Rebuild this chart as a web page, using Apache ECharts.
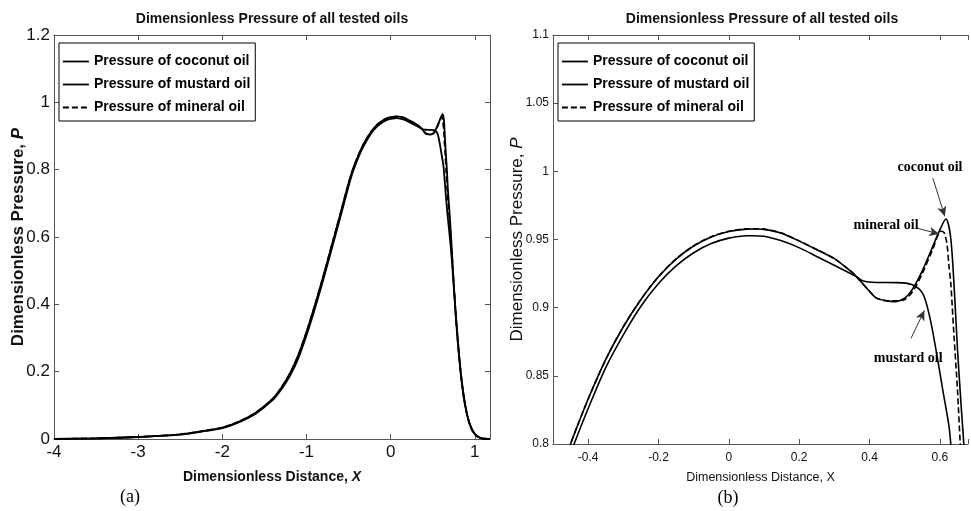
<!DOCTYPE html>
<html>
<head>
<meta charset="utf-8">
<script src="https://cdn.jsdelivr.net/npm/echarts@6/dist/echarts.min.js"></script>
<style>html,body{margin:0;padding:0;background:#fff;}#chart{width:971px;height:511px;}</style>
</head>
<body>
<div id="chart"></div>
<script>
// ---------- data ----------
const oilNames = ['Pressure of coconut oil', 'Pressure of mustard oil', 'Pressure of mineral oil'];

const coconutX = [-4.0, -3.5, -3.0, -2.5, -2.2, -2.0, -1.8, -1.6, -1.4, -1.3, -1.2, -1.1, -1.0, -0.9, -0.8, -0.7, -0.6, -0.5, -0.46, -0.44, -0.40, -0.35, -0.30, -0.25, -0.20, -0.15, -0.10, -0.05, 0.00, 0.05, 0.07, 0.10, 0.15, 0.20, 0.25, 0.30, 0.35, 0.363, 0.40, 0.42, 0.45, 0.47, 0.50, 0.523, 0.55, 0.58, 0.60, 0.617, 0.63, 0.64, 0.65, 0.66, 0.668, 0.68, 0.70, 0.72, 0.74, 0.76, 0.78, 0.80, 0.84, 0.88, 0.92, 0.96, 1.00, 1.05, 1.10, 1.18];
const coconutP = [0.000, 0.002, 0.006, 0.014, 0.025, 0.034, 0.052, 0.079, 0.120, 0.152, 0.193, 0.248, 0.318, 0.398, 0.484, 0.575, 0.667, 0.760, 0.793, 0.807, 0.833, 0.862, 0.886, 0.906, 0.9227, 0.9356, 0.9452, 0.9518, 0.9558, 0.9576, 0.9577, 0.9574, 0.9545, 0.9488, 0.9425, 0.936, 0.926, 0.9227, 0.912, 0.907, 0.905, 0.9044, 0.907, 0.914, 0.927, 0.945, 0.957, 0.965, 0.953, 0.918, 0.870, 0.830, 0.800, 0.740, 0.670, 0.590, 0.500, 0.420, 0.345, 0.280, 0.180, 0.110, 0.060, 0.032, 0.015, 0.005, 0.001, 0.000];

const mustardX = [-4.0, -3.5, -3.0, -2.5, -2.2, -2.0, -1.8, -1.6, -1.4, -1.3, -1.2, -1.1, -1.0, -0.9, -0.8, -0.7, -0.6, -0.5, -0.46, -0.44, -0.40, -0.35, -0.30, -0.25, -0.20, -0.15, -0.10, -0.05, 0.00, 0.05, 0.065, 0.10, 0.15, 0.204, 0.25, 0.298, 0.363, 0.382, 0.42, 0.476, 0.52, 0.551, 0.571, 0.589, 0.608, 0.626, 0.631, 0.65, 0.67, 0.69, 0.71, 0.73, 0.75, 0.77, 0.79, 0.83, 0.87, 0.91, 0.95, 1.00, 1.05, 1.10, 1.18];
const mustardP = [0.000, 0.002, 0.006, 0.013, 0.024, 0.032, 0.050, 0.076, 0.116, 0.147, 0.186, 0.238, 0.308, 0.388, 0.474, 0.565, 0.657, 0.751, 0.786, 0.800, 0.826, 0.856, 0.880, 0.901, 0.9177, 0.9306, 0.9403, 0.947, 0.951, 0.9527, 0.9528, 0.9524, 0.949, 0.9435, 0.9375, 0.9313, 0.9227, 0.9195, 0.9185, 0.9184, 0.917, 0.9105, 0.8934, 0.869, 0.840, 0.813, 0.800, 0.740, 0.680, 0.630, 0.580, 0.520, 0.450, 0.380, 0.320, 0.200, 0.120, 0.070, 0.037, 0.014, 0.005, 0.001, 0.000];

const mineralX = [-4.0, -3.5, -3.0, -2.5, -2.2, -2.0, -1.8, -1.6, -1.4, -1.3, -1.2, -1.1, -1.0, -0.9, -0.8, -0.7, -0.6, -0.5, -0.46, -0.44, -0.40, -0.35, -0.30, -0.25, -0.20, -0.15, -0.10, -0.05, 0.00, 0.05, 0.07, 0.10, 0.15, 0.20, 0.25, 0.30, 0.35, 0.363, 0.40, 0.42, 0.45, 0.47, 0.50, 0.523, 0.55, 0.58, 0.603, 0.612, 0.62, 0.626, 0.631, 0.64, 0.65, 0.658, 0.67, 0.69, 0.71, 0.73, 0.75, 0.77, 0.79, 0.82, 0.86, 0.90, 0.94, 0.98, 1.03, 1.08, 1.18];
const mineralP = [0.000, 0.002, 0.006, 0.014, 0.025, 0.034, 0.052, 0.079, 0.120, 0.152, 0.193, 0.248, 0.318, 0.398, 0.484, 0.575, 0.667, 0.760, 0.793, 0.807, 0.833, 0.862, 0.886, 0.906, 0.9228, 0.9358, 0.9454, 0.952, 0.956, 0.9578, 0.9579, 0.9576, 0.9547, 0.949, 0.9427, 0.936, 0.926, 0.9227, 0.912, 0.907, 0.905, 0.905, 0.906, 0.912, 0.925, 0.943, 0.956, 0.955, 0.947, 0.930, 0.918, 0.880, 0.840, 0.800, 0.750, 0.680, 0.610, 0.540, 0.460, 0.380, 0.310, 0.230, 0.140, 0.080, 0.042, 0.020, 0.007, 0.002, 0.000];

// left panel (a) ticks
const leftXTicks = [-4, -3, -2, -1, 0, 1];
const leftYTicks = [0, 0.2, 0.4, 0.6, 0.8, 1, 1.2];
// right panel (b) ticks
const rightXTicks = [-0.4, -0.2, 0, 0.2, 0.4, 0.6];
const rightYTicks = [0.8, 0.85, 0.9, 0.95, 1, 1.05, 1.1];

// annotations in panel (b), data coordinates
const annotationText = ['coconut oil', 'mineral oil', 'mustard oil'];
const annotationTextX = [0.572, 0.447, 0.510];
const annotationTextP = [1.003, 0.960, 0.863];
const arrowFromX = [0.580, 0.532, 0.518];
const arrowFromP = [0.995, 0.9585, 0.8775];
const arrowToX = [0.614, 0.598, 0.556];
const arrowToP = [0.967, 0.954, 0.898];

// ---------- chart ----------
const pairs = (xs, ys) => xs.map((x, i) => [x, ys[i]]);
const narrow = "'Liberation Sans Narrow','Arial Narrow','Liberation Sans',Arial,sans-serif";
const sans = "'Liberation Sans',Arial,sans-serif";
const serif = "'Liberation Serif','Times New Roman',serif";
const axisCol = '#555';

function axisBase(extra) {
  return Object.assign({
    type: 'value',
    axisLine: { show: true, onZero: false, lineStyle: { color: axisCol, width: 1 } },
    axisTick: { show: true, inside: true, length: 5, lineStyle: { color: axisCol } },
    splitLine: { show: false },
    axisLabel: { show: false }
  }, extra);
}
const onTicks = (ticks, v) => ticks.some(t => Math.abs(t - v) < 1e-6);
const fmt = v => String(+v.toFixed(2));

const oilSeries = [
  { data: pairs(coconutX, coconutP), dash: 'solid' },
  { data: pairs(mustardX, mustardP), dash: 'solid' },
  { data: pairs(mineralX, mineralP), dash: [6, 3] }
];

const series = [];
oilSeries.forEach((s, i) => {
  series.push({
    name: oilNames[i], type: 'line', xAxisIndex: 0, yAxisIndex: 0,
    data: s.data, symbol: 'none', smooth: 0.3, clip: true,
    lineStyle: { color: '#000', width: 1.8, type: s.dash },
    itemStyle: { color: '#000' }, z: 2 + i
  });
});
oilSeries.forEach((s, i) => {
  const ser = {
    name: oilNames[i], type: 'line', xAxisIndex: 2, yAxisIndex: 2,
    data: s.data, symbol: 'none', smooth: 0.3, clip: true,
    lineStyle: { color: '#000', width: 1.6, type: s.dash },
    itemStyle: { color: '#000' }, z: 2 + i
  };
  if (i === 0) {
    ser.markLine = {
      silent: true, symbol: ['none', 'arrow'], symbolSize: [7, 10],
      lineStyle: { color: '#333', width: 1, type: 'solid' },
      label: { show: false },
      data: arrowFromX.map((x, k) => [
        { coord: [x, arrowFromP[k]] },
        { coord: [arrowToX[k], arrowToP[k]] }
      ])
    };
    ser.markPoint = {
      silent: true, symbol: 'circle', symbolSize: 1,
      itemStyle: { color: 'rgba(0,0,0,0)' },
      label: {
        show: true, position: 'inside', color: '#000',
        fontFamily: serif, fontWeight: 'bold', fontSize: 14,
        formatter: p => p.name
      },
      data: annotationText.map((t, k) => ({ name: t, coord: [annotationTextX[k], annotationTextP[k]] }))
    };
  }
  series.push(ser);
});

const legendBase = {
  orient: 'vertical', itemWidth: 26, itemHeight: 12, itemGap: 6,
  borderColor: '#000', borderWidth: 1, borderRadius: 0, backgroundColor: '#fff',
  selectedMode: false, data: oilNames,
  itemStyle: { opacity: 0 },
  lineStyle: { width: 1.8 },
  textStyle: { fontFamily: narrow, fontSize: 14, fontWeight: 'bold', color: '#000', lineHeight: 17 }
};

const option = {
  animation: false,
  backgroundColor: '#fff',
  title: [
    { text: 'Dimensionless Pressure of all tested oils', left: 272, top: 12, padding: 0, textAlign: 'center',
      textStyle: { fontFamily: narrow, fontSize: 14, fontWeight: 'bold', color: '#111' } },
    { text: 'Dimensionless Pressure of all tested oils', left: 762, top: 12, padding: 0, textAlign: 'center',
      textStyle: { fontFamily: narrow, fontSize: 14, fontWeight: 'bold', color: '#111' } }
  ],
  legend: [
    Object.assign({}, legendBase, { left: 59, top: 43, padding: [10, 5, 5, 3] }),
    Object.assign({}, legendBase, { left: 558, top: 43, padding: [10, 5, 5, 3] })
  ],
  grid: [
    { left: 54, top: 35, width: 436, height: 404 },
    { left: 553, top: 35, width: 418, height: 409 }
  ],
  xAxis: [
    axisBase({
      gridIndex: 0, position: 'bottom', min: -4, max: 1.18, interval: 1,
      axisLabel: { show: true, fontFamily: narrow, fontSize: 17, color: '#111', margin: 5,
        formatter: v => onTicks(leftXTicks, v) ? fmt(v) : '' },
      name: 'Dimensionless Distance, {i|X}', nameLocation: 'middle', nameGap: 31,
      nameTextStyle: { fontFamily: narrow, fontSize: 14, fontWeight: 'bold', color: '#111',
        rich: { i: { fontFamily: narrow, fontSize: 14, fontWeight: 'bold', fontStyle: 'italic', color: '#111' } } }
    }),
    axisBase({ gridIndex: 0, position: 'top', min: -4, max: 1.18, interval: 1 }),
    axisBase({
      gridIndex: 1, position: 'bottom', min: -0.5, max: 0.68, minInterval: 0.2, maxInterval: 0.2,
      axisLabel: { show: true, fontFamily: narrow, fontSize: 12, color: '#111', margin: 8,
        formatter: v => onTicks(rightXTicks, v) ? fmt(v) : '' },
      name: 'Dimensionless Distance, X', nameLocation: 'middle', nameGap: 27,
      nameTextStyle: { fontFamily: narrow, fontSize: 12.5, color: '#111' }
    }),
    axisBase({ gridIndex: 1, position: 'top', min: -0.5, max: 0.68, minInterval: 0.2, maxInterval: 0.2 })
  ],
  yAxis: [
    axisBase({
      gridIndex: 0, position: 'left', min: 0, max: 1.2, interval: 0.2,
      axisLabel: { show: true, fontFamily: narrow, fontSize: 17, color: '#111', margin: 4,
        formatter: v => onTicks(leftYTicks, v) ? fmt(v) : '' },
      name: 'Dimensionless Pressure, {i|P}', nameLocation: 'middle', nameGap: 29, nameRotate: 90,
      nameMoveOverlap: false,
      nameTextStyle: { fontFamily: sans, fontSize: 17, fontWeight: 'bold', color: '#111', padding: [0, 0, -2, 0],
        rich: { i: { fontFamily: sans, fontSize: 17, fontWeight: 'bold', fontStyle: 'italic', color: '#111' } } }
    }),
    axisBase({ gridIndex: 0, position: 'right', min: 0, max: 1.2, interval: 0.2 }),
    axisBase({
      gridIndex: 1, position: 'left', min: 0.8, max: 1.1, interval: 0.05,
      axisLabel: { show: true, fontFamily: narrow, fontSize: 12, color: '#111', margin: 4,
        formatter: v => onTicks(rightYTicks, v) ? fmt(v) : '' },
      name: 'Dimensionless Pressure, {i|P}', nameLocation: 'middle', nameGap: 31, nameRotate: 90,
      nameMoveOverlap: false,
      nameTextStyle: { fontFamily: sans, fontSize: 17, color: '#111', padding: [0, 0, -4, 0],
        rich: { i: { fontFamily: sans, fontSize: 17, fontStyle: 'italic', color: '#111' } } }
    })
  ],
  graphic: [
    { type: 'text', x: 130, y: 497, style: { text: '(a)', fontFamily: serif, fontSize: 18, fill: '#000', textAlign: 'center', textVerticalAlign: 'middle' } },
    { type: 'text', x: 728, y: 498, style: { text: '(b)', fontFamily: serif, fontSize: 18, fill: '#000', textAlign: 'center', textVerticalAlign: 'middle' } }
  ],
  series: series
};

const chart = echarts.init(document.getElementById('chart'), null, { renderer: 'canvas' });
chart.setOption(option);
</script>
</body>
</html>
